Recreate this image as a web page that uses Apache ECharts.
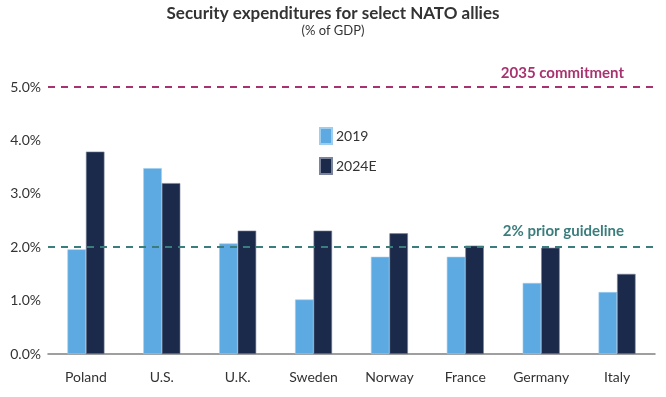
<!DOCTYPE html>
<html>
<head>
<meta charset="utf-8">
<script src="https://cdn.jsdelivr.net/npm/echarts@6/dist/echarts.min.js"></script>
<style>
  html, body { margin: 0; padding: 0; background: #fff; }
  #chart { width: 666px; height: 397px; }
</style>
</head>
<body>
<div id="chart"></div>
<script>
// ---- data ----
const countries = ['Poland', 'U.S.', 'U.K.', 'Sweden', 'Norway', 'France', 'Germany', 'Italy'];
const values2019 = [1.96, 3.48, 2.07, 1.02, 1.82, 1.82, 1.33, 1.16];
const values2024 = [3.79, 3.20, 2.31, 2.31, 2.26, 2.03, 1.99, 1.50];
const seriesNames = ['2019', '2024E'];
const commitment = 5.0;
const guideline = 2.0;

const chart = echarts.init(document.getElementById('chart'));
const FONT = 'Lato, "Noto Sans", sans-serif';

chart.setOption({
    animation: false,
    textStyle: { fontFamily: FONT },
    title: {
        text: 'Security expenditures for select NATO allies',
        subtext: '(% of GDP)',
        left: 'center',
        top: 0,
        itemGap: 2,
        textStyle: { fontSize: 17, fontWeight: 'bold', color: '#333', fontFamily: FONT },
        subtextStyle: { fontSize: 13, color: '#333', fontFamily: FONT },
    },
    legend: {
        orient: 'vertical',
        left: 314,
        top: 122,
        icon: 'rect',
        itemWidth: 12,
        itemHeight: 16,
        itemGap: 12,
        textStyle: { fontSize: 14, color: '#333', padding: [0, 0, 0, -1] },
        data: seriesNames,
    },
    grid: { left: 48, right: 11, top: 87, bottom: 43 },
    xAxis: {
        type: 'category',
        data: countries,
        axisLine: { lineStyle: { color: '#808080', width: 1.5 } },
        axisTick: { show: false },
        axisLabel: { color: '#333', fontSize: 14, margin: 16 },
    },
    yAxis: {
        type: 'value',
        min: 0,
        max: 5,
        interval: 1,
        splitLine: { show: false },
        axisLine: { show: false },
        axisTick: { show: false },
        axisLabel: { color: '#333', fontSize: 14, margin: 7, formatter: v => v.toFixed(1) + '%' },
    },
    series: [
        {
            name: seriesNames[0],
            type: 'bar',
            data: values2019,
            barWidth: 18.5,
            barGap: '0%',
            itemStyle: { color: '#5DA9E1', borderColor: '#9FCDEE', borderWidth: 0.6 },
            markLine: {
                symbol: 'none',
                silent: true,
                data: [
                    {
                        yAxis: commitment,
                        lineStyle: { color: '#A8326F', type: [7, 6], width: 2 },
                        label: { formatter: '2035 commitment', position: 'insideEndTop', color: '#A8326F', fontWeight: 'bold', fontSize: 15, distance: [31, 6] },
                    },
                    {
                        yAxis: guideline,
                        lineStyle: { color: '#3A7D7C', type: [7, 6], width: 2 },
                        label: { formatter: '2% prior guideline', position: 'insideEndTop', color: '#3A7D7C', fontWeight: 'bold', fontSize: 15, distance: [31, 9] },
                    },
                ],
            },
        },
        {
            name: seriesNames[1],
            type: 'bar',
            data: values2024,
            barWidth: 18.5,
            barGap: '0%',
            itemStyle: { color: '#1B2A4A', borderColor: '#7B849A', borderWidth: 0.6 },
        },
    ],
});
</script>
</body>
</html>
